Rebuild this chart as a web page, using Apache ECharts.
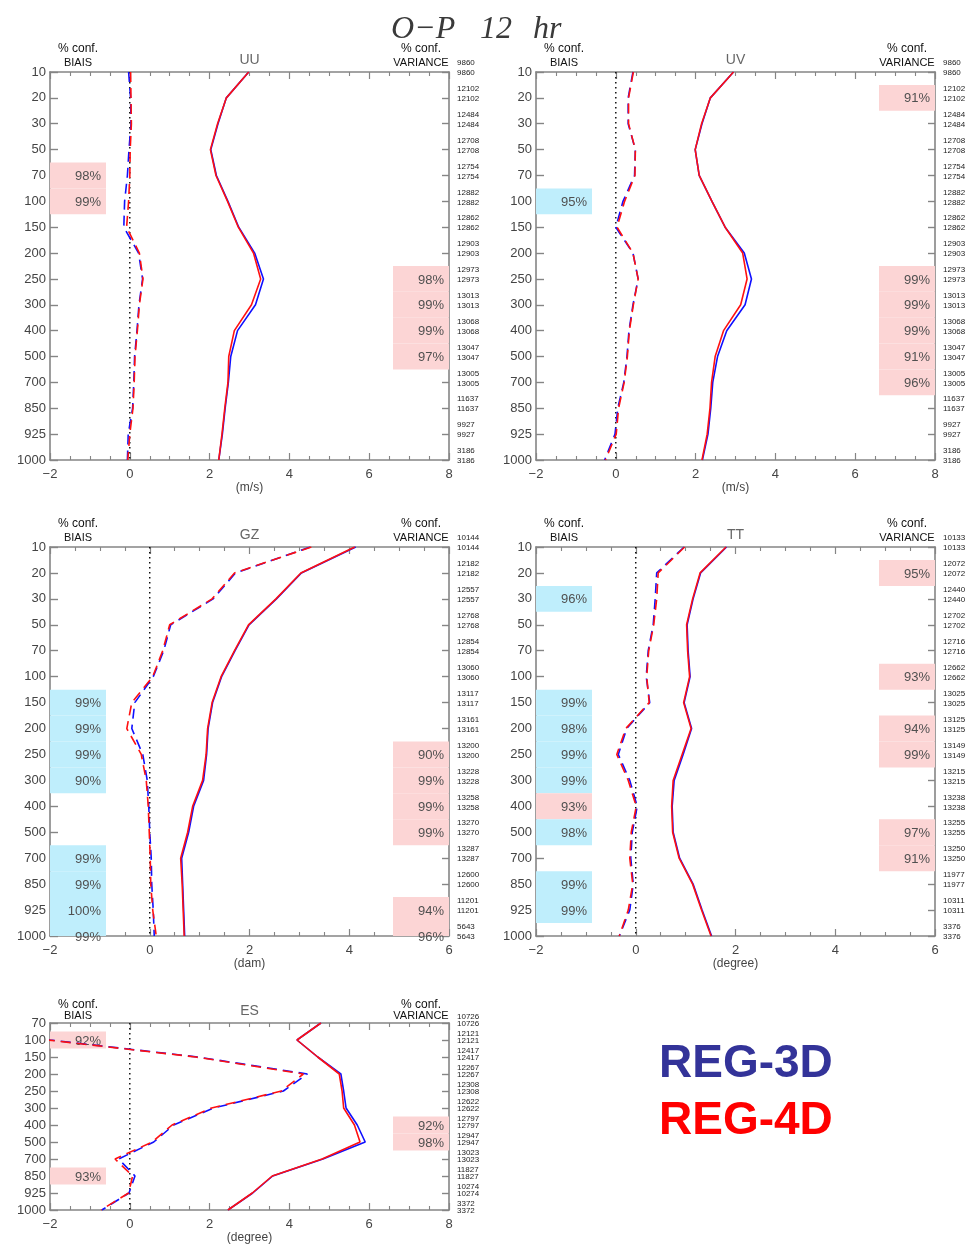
<!DOCTYPE html>
<html>
<head>
<meta charset="utf-8">
<script src="https://cdn.jsdelivr.net/npm/echarts@6/dist/echarts.min.js"></script>
<style>
html,body{margin:0;padding:0;background:#fff;}
#chart{width:980px;height:1249px;}
</style>
</head>
<body>
<div id="chart"></div>
<script>
// ---------- DATA ----------
const LEVELS = ['10','20','30','50','70','100','150','200','250','300','400','500','700','850','925','1000'];
const LEVELS_ES = ['70','100','150','200','250','300','400','500','700','850','925','1000'];

// UU (m/s)
const UU_STD_3D  = [2.98,2.42,2.21,2.03,2.17,2.46,2.73,3.13,3.35,3.15,2.70,2.53,2.47,2.39,2.32,2.23];
const UU_STD_4D  = [2.98,2.42,2.20,2.02,2.16,2.45,2.72,3.10,3.28,3.05,2.62,2.48,2.46,2.38,2.31,2.23];
const UU_BIAS_3D = [-0.03,0.02,0.03,-0.02,-0.06,-0.13,-0.15,0.22,0.32,0.23,0.18,0.12,0.10,0.07,-0.04,-0.06];
const UU_BIAS_4D = [0.02,0.03,0.04,0.01,0.00,-0.03,-0.08,0.24,0.33,0.24,0.19,0.13,0.11,0.08,0.00,-0.05];
const UU_COUNTS  = [9860,12102,12484,12708,12754,12882,12862,12903,12973,13013,13068,13047,13005,11637,9927,3186];
const UU_CONF_BIAS = [['70','p','98%'],['100','p','99%']];
const UU_CONF_VAR  = [['250','p','98%'],['300','p','99%'],['400','p','99%'],['500','p','97%']];

// UV (m/s)
const UV_STD_3D  = [2.95,2.37,2.16,1.99,2.09,2.41,2.74,3.22,3.40,3.24,2.78,2.55,2.43,2.38,2.31,2.17];
const UV_STD_4D  = [2.95,2.37,2.15,1.99,2.09,2.41,2.74,3.18,3.29,3.13,2.70,2.49,2.40,2.36,2.29,2.16];
const UV_BIAS_3D = [0.43,0.31,0.31,0.49,0.47,0.18,0.00,0.43,0.56,0.43,0.33,0.28,0.20,0.05,-0.02,-0.28];
const UV_BIAS_4D = [0.44,0.32,0.32,0.49,0.48,0.22,0.03,0.43,0.56,0.44,0.34,0.29,0.21,0.07,0.01,-0.26];
const UV_COUNTS  = [9860,12102,12484,12708,12754,12882,12862,12903,12973,13013,13068,13047,13005,11637,9927,3186];
const UV_CONF_BIAS = [['100','c','95%']];
const UV_CONF_VAR  = [['20','p','91%'],['250','p','99%'],['300','p','99%'],['400','p','99%'],['500','p','91%'],['700','p','96%']];

// GZ (dam)
const GZ_STD_3D  = [4.13,3.04,2.54,1.99,1.71,1.44,1.26,1.17,1.14,1.08,0.88,0.78,0.64,0.66,0.68,0.70];
const GZ_STD_4D  = [4.11,3.03,2.53,1.98,1.70,1.43,1.25,1.16,1.13,1.06,0.86,0.76,0.62,0.65,0.67,0.69];
const GZ_BIAS_3D = [3.22,1.72,1.27,0.42,0.28,0.07,-0.30,-0.36,-0.14,-0.05,-0.02,0.00,0.03,0.04,0.07,0.09];
const GZ_BIAS_4D = [3.24,1.70,1.25,0.40,0.26,0.06,-0.36,-0.46,-0.17,-0.07,-0.03,-0.01,0.01,0.02,0.06,0.13];
const GZ_COUNTS  = [10144,12182,12557,12768,12854,13060,13117,13161,13200,13228,13258,13270,13287,12600,11201,5643];
const GZ_CONF_BIAS = [['150','c','99%'],['200','c','99%'],['250','c','99%'],['300','c','90%'],['700','c','99%'],['850','c','99%'],['925','c','100%'],['1000','c','99%']];
const GZ_CONF_VAR  = [['250','p','90%'],['300','p','99%'],['400','p','99%'],['500','p','99%'],['925','p','94%'],['1000','p','96%']];

// TT (degree)
const TT_STD_3D  = [1.82,1.30,1.15,1.03,1.05,1.09,0.97,1.12,0.95,0.77,0.73,0.75,0.88,1.15,1.33,1.52];
const TT_STD_4D  = [1.81,1.29,1.14,1.02,1.04,1.08,0.96,1.11,0.93,0.75,0.72,0.74,0.87,1.14,1.32,1.51];
const TT_BIAS_3D = [0.97,0.42,0.39,0.35,0.25,0.21,0.28,-0.18,-0.35,-0.12,0.03,-0.07,-0.10,-0.05,-0.12,-0.33];
const TT_BIAS_4D = [0.98,0.45,0.42,0.36,0.26,0.22,0.27,-0.20,-0.38,-0.15,0.01,-0.09,-0.12,-0.06,-0.15,-0.33];
const TT_COUNTS  = [10133,12072,12440,12702,12716,12662,13025,13125,13149,13215,13238,13255,13250,11977,10311,3376];
const TT_CONF_BIAS = [['30','c','96%'],['150','c','99%'],['200','c','98%'],['250','c','99%'],['300','c','99%'],['400','p','93%'],['500','c','98%'],['850','c','99%'],['925','c','99%']];
const TT_CONF_VAR  = [['20','p','95%'],['100','p','93%'],['200','p','94%'],['250','p','99%'],['500','p','97%'],['700','p','91%']];

// ES (degree)
const ES_STD_3D  = [4.79,4.19,4.71,5.29,5.36,5.42,5.70,5.90,4.84,3.58,3.08,2.46];
const ES_STD_4D  = [4.79,4.19,4.71,5.25,5.32,5.36,5.63,5.77,4.82,3.57,3.07,2.46];
const ES_BIAS_3D = [-4.5,-2.00,1.70,4.45,3.85,2.10,1.10,0.60,-0.28,0.13,-0.02,-0.70];
const ES_BIAS_4D = [-4.5,-2.05,1.65,4.35,3.80,2.05,1.06,0.56,-0.37,0.07,-0.03,-0.72];
const ES_COUNTS  = [10726,12121,12417,12267,12308,12622,12797,12947,13023,11827,10274,3372];
const ES_CONF_BIAS = [['100','p','92%'],['850','p','93%']];
const ES_CONF_VAR  = [['400','p','92%'],['500','p','98%']];

const X_RANGE_WIND = [-2, 8];
const X_RANGE_GZTT = [-2, 6];

// ---------- PANELS (built from the arrays) ----------
const PANELS = [
  {name:'UU', unit:'(m/s)',   levels:LEVELS,    range:X_RANGE_WIND, std3:UU_STD_3D, std4:UU_STD_4D, b3:UU_BIAS_3D, b4:UU_BIAS_4D, counts:UU_COUNTS, confB:UU_CONF_BIAS, confV:UU_CONF_VAR},
  {name:'UV', unit:'(m/s)',   levels:LEVELS,    range:X_RANGE_WIND, std3:UV_STD_3D, std4:UV_STD_4D, b3:UV_BIAS_3D, b4:UV_BIAS_4D, counts:UV_COUNTS, confB:UV_CONF_BIAS, confV:UV_CONF_VAR},
  {name:'GZ', unit:'(dam)',   levels:LEVELS,    range:X_RANGE_GZTT, std3:GZ_STD_3D, std4:GZ_STD_4D, b3:GZ_BIAS_3D, b4:GZ_BIAS_4D, counts:GZ_COUNTS, confB:GZ_CONF_BIAS, confV:GZ_CONF_VAR},
  {name:'TT', unit:'(degree)',levels:LEVELS,    range:X_RANGE_GZTT, std3:TT_STD_3D, std4:TT_STD_4D, b3:TT_BIAS_3D, b4:TT_BIAS_4D, counts:TT_COUNTS, confB:TT_CONF_BIAS, confV:TT_CONF_VAR},
  {name:'ES', unit:'(degree)',levels:LEVELS_ES, range:X_RANGE_WIND, std3:ES_STD_3D, std4:ES_STD_4D, b3:ES_BIAS_3D, b4:ES_BIAS_4D, counts:ES_COUNTS, confB:ES_CONF_BIAS, confV:ES_CONF_VAR}
];

// ---------- LAYOUT / STYLE ----------
const LAYOUT = [
  {left:50,  top:72,   width:399, height:388, lh:10},
  {left:536, top:72,   width:399, height:388, lh:10},
  {left:50,  top:547,  width:399, height:389, lh:10},
  {left:536, top:547,  width:399, height:389, lh:10},
  {left:50,  top:1023, width:399, height:187, lh:7}
];
const BOX_W = 56;
const PINK = '#fcd5d5';
const CYAN = '#bfeefc';
const AXIS_COLOR = '#858585';
const FONT = '"Liberation Sans", Arial, sans-serif';
const BLUE = '#1010ff';
const RED = '#ff1010';
const DASH = [10, 6];

function minusFmt(v){ return v < 0 ? '\u2212' + Math.abs(v) : String(v); }

const grids = [], xAxes = [], yAxes = [], series = [], graphics = [];

PANELS.forEach((p, i) => {
  const L = LAYOUT[i];
  grids.push({left:L.left, top:L.top, width:L.width, height:L.height});
  const xBase = {
    gridIndex:i, type:'value', min:p.range[0], max:p.range[1], interval:2,
    axisLine:{show:true, onZero:false, lineStyle:{color:AXIS_COLOR, width:1.6}},
    axisTick:{show:true, inside:true, length:7, lineStyle:{color:AXIS_COLOR, width:1.2}},
    minorTick:{show:true, splitNumber:4, length:4, lineStyle:{color:AXIS_COLOR, width:1.1}},
    splitLine:{show:false}, minorSplitLine:{show:false}
  };
  xAxes.push(Object.assign({}, xBase, {
    position:'bottom',
    axisLabel:{show:true, fontSize:13, color:'#444', margin:8, fontFamily:FONT, formatter:minusFmt},
    name:p.unit, nameLocation:'middle', nameGap:28,
    nameTextStyle:{fontSize:12, color:'#444', fontFamily:FONT, verticalAlign:'middle'}
  }));
  xAxes.push(Object.assign({}, xBase, {position:'top', axisLabel:{show:false}}));

  const yBase = {
    gridIndex:i, type:'category', data:p.levels, inverse:true, boundaryGap:false,
    axisLine:{show:true, onZero:false, lineStyle:{color:AXIS_COLOR, width:1.6}},
    axisTick:{show:true, inside:true, length:8, interval:0, lineStyle:{color:AXIS_COLOR, width:1.4}},
    splitLine:{show:false}
  };
  yAxes.push(Object.assign({}, yBase, {
    position:'left',
    axisLabel:{show:true, interval:0, fontSize:13, color:'#444', margin:4, fontFamily:FONT}
  }));
  const counts = p.counts;
  const lh = L.lh;
  yAxes.push(Object.assign({}, yBase, {
    position:'right',
    axisTick:{show:true, inside:true, length:7, interval:0, lineStyle:{color:AXIS_COLOR, width:1.4}},
    axisLabel:{
      show:true, interval:0, margin:8, align:'left',
      formatter:function(v, idx){ const c = counts[idx]; return '{c|' + c + '}\n{c|' + c + '}\n{s| }'; },
      rich:{
        c:{fontSize:8, lineHeight:lh, color:'#222', fontFamily:FONT},
        s:{fontSize:6, lineHeight:lh - 2}
      }
    }
  }));

  // confidence boxes
  const items = [];
  p.confB.forEach(c => items.push({side:'L', idx:p.levels.indexOf(c[0]), kind:c[1], label:c[2]}));
  p.confV.forEach(c => items.push({side:'R', idx:p.levels.indexOf(c[0]), kind:c[1], label:c[2]}));
  series.push({
    type:'custom', xAxisIndex:2*i, yAxisIndex:2*i, z:1, silent:true,
    data: items.map(it => [0, it.idx]),
    encode:{x:0, y:1},
    renderItem:function(params, api){
      const it = items[params.dataIndex];
      const cs = params.coordSys;
      const y = api.coord([0, it.idx])[1];
      const half = api.size([0, 1])[1] / 2;
      const y0 = Math.max(y - half, cs.y);
      const y1 = Math.min(y + half, cs.y + cs.height);
      const x0 = it.side === 'L' ? cs.x : cs.x + cs.width - BOX_W;
      return {type:'group', children:[
        {type:'rect', shape:{x:x0, y:y0, width:BOX_W, height:y1 - y0}, style:{fill: it.kind === 'c' ? CYAN : PINK}},
        {type:'text', style:{text:it.label, x:x0 + BOX_W - 5, y:y + 1, align:'right', verticalAlign:'middle',
          fill:'#505050', fontSize:13, fontFamily:FONT}}
      ]};
    }
  });

  // zero line
  series.push({
    type:'line', xAxisIndex:2*i, yAxisIndex:2*i, z:2, silent:true, symbol:'none',
    data:[[0, 0], [0, p.levels.length - 1]],
    lineStyle:{color:'#000', width:1.4, type:[1.5, 3.5]}
  });

  const mk = (arr) => p.levels.map((l, k) => [arr[k], k]);
  const lineSeries = [
    {d:p.std3, c:BLUE, t:'solid'},
    {d:p.std4, c:RED,  t:'solid'},
    {d:p.b3,   c:BLUE, t:DASH},
    {d:p.b4,   c:RED,  t:DASH}
  ];
  lineSeries.forEach((s, k) => series.push({
    type:'line', xAxisIndex:2*i, yAxisIndex:2*i, z:3 + k, silent:true, symbol:'none', clip:true,
    data:mk(s.d), lineStyle:{color:s.c, width:1.6, type:s.t}
  }));

  // annotations
  const isES = (p.name === 'ES');
  const tTop = isES ? L.top - 18 : L.top - 23;
  const tBot = isES ? L.top - 7 : L.top - 9;
  graphics.push({type:'text', x:L.left + L.width / 2, y:L.top - 12,
    style:{text:p.name, fontSize:14, fill:'#666', fontFamily:FONT, align:'center', verticalAlign:'middle'}});
  graphics.push({type:'text', x:L.left + 28, y:tTop,
    style:{text:'% conf.', fontSize:12, fill:'#111', fontFamily:FONT, align:'center', verticalAlign:'middle'}});
  graphics.push({type:'text', x:L.left + 28, y:tBot,
    style:{text:'BIAIS', fontSize:11, fill:'#111', fontFamily:FONT, align:'center', verticalAlign:'middle'}});
  graphics.push({type:'text', x:L.left + L.width - 28, y:tTop,
    style:{text:'% conf.', fontSize:12, fill:'#111', fontFamily:FONT, align:'center', verticalAlign:'middle'}});
  graphics.push({type:'text', x:L.left + L.width - 28, y:tBot,
    style:{text:'VARIANCE', fontSize:11, fill:'#111', fontFamily:FONT, align:'center', verticalAlign:'middle'}});
});

// main title
const TITLE_FONT = '"Liberation Serif", "DejaVu Serif", serif';
[['O\u2212P', 391], ['12', 480], ['hr', 533]].forEach(t => graphics.push({
  type:'text', x:t[1], y:30, z:100,
  style:{text:t[0], fontSize:32, fontStyle:'italic', fill:'#3a3a3a', fontFamily:TITLE_FONT, align:'left', verticalAlign:'middle'}
}));

// legend
graphics.push({type:'text', x:659, y:1064,
  style:{text:'REG-3D', fontSize:46, fontWeight:'bold', fill:'#333399', fontFamily:FONT, align:'left', verticalAlign:'middle'}});
graphics.push({type:'text', x:659, y:1121,
  style:{text:'REG-4D', fontSize:46, fontWeight:'bold', fill:'#ff0000', fontFamily:FONT, align:'left', verticalAlign:'middle'}});

const chart = echarts.init(document.getElementById('chart'), null, {renderer:'canvas'});
chart.setOption({
  backgroundColor:'#fff',
  animation:false,
  textStyle:{fontFamily:FONT},
  grid:grids, xAxis:xAxes, yAxis:yAxes, series:series, graphic:graphics
});
</script>
</body>
</html>
